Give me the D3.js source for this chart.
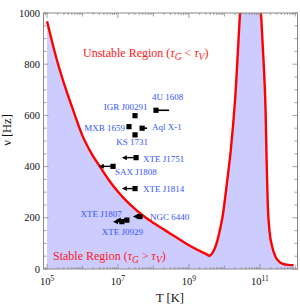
<!DOCTYPE html>
<html><head><meta charset="utf-8">
<script src="https://cdn.jsdelivr.net/npm/d3@7"></script>
<style>
html,body{margin:0;padding:0;background:#fff;}
svg{display:block;font-family:"Liberation Serif","Times New Roman",serif;}
</style></head><body>
<svg id="chart" width="300" height="307"></svg>
<script>
// ---- data ----
const boundaryLogT = [5.0,5.25,5.5,5.75,6.0,6.25,6.5,6.75,7.0,7.25,7.5,7.75,8.0,8.25,8.5,8.75,9.0,9.25,9.5,9.58,9.65,9.72,9.79,9.87,9.96,10.07,10.18,10.30,10.44,10.55,10.95,11.03,11.10,11.16,11.19,11.22,11.27,11.35,11.45,11.55,11.65,11.8,11.95];
const boundaryNu   = [968,830,715,615,520,452,398,346,302,264,232,204,180,158,136,114,93,74,57,51,60,78,105,150,215,335,465,660,1000,1250,1250,1000,820,620,420,260,150,85,45,28,20,16,15];

const starNames    = ["4U 1608","IGR J00291","MXB 1659","Aql X-1","KS 1731","XTE J1751","SAX J1808","XTE J1814","NGC 6440","XTE J1807","XTE J0929"];
const starNu       = [620,599,556,550,524,435,401,314,205,191,185];
const starLogT     = [8.07,7.48,7.31,7.68,7.48,7.51,6.86,7.48,7.62,7.25,7.11];
const starBarLogT  = [8.44,null,null,7.82,null,7.11,6.46,7.11,7.42,6.94,6.86];

const xLabelExponents = [5,7,9,11];
const yTickValues = [0,200,400,600,800,1000];

// ---- layout ----
const L=43.5, R=297.5, T=13, B=269;
const svg = d3.select("#chart");
const x = d3.scaleLog().domain([Math.pow(10,4.9), Math.pow(10,12.06)]).range([L,R]);
const y = d3.scaleLinear().domain([0,1000]).range([B,T]);

svg.append("defs").append("clipPath").attr("id","plot")
  .append("rect").attr("x",L).attr("y",T).attr("width",R-L).attr("height",B-T);

const curveData = boundaryLogT.map((lt,i)=>({t:Math.pow(10,lt), v:boundaryNu[i]}));
// split at the minimum so the kink stays sharp
const minIdx = d3.minIndex(curveData.slice(0,30), d=>d.v);
const seg1 = curveData.slice(0,minIdx+1), seg2 = curveData.slice(minIdx);
const lineGen = d3.line().x(d=>x(d.t)).y(d=>y(d.v)).curve(d3.curveMonotoneX);
const pathD = lineGen(seg1) + lineGen(seg2).replace(/^M/,"L");

const g = svg.append("g").attr("clip-path","url(#plot)");
g.append("path")
  .attr("d", pathD + `L${x(curveData[curveData.length-1].t)},${y(0)}L${x(curveData[0].t)},${y(0)}Z`)
  .attr("fill","#ccccff");

// frame
const frameColor="#8a8a8a";
svg.append("rect").attr("x",L).attr("y",T).attr("width",R-L).attr("height",B-T)
  .attr("fill","none").attr("stroke",frameColor).attr("stroke-width",1);

// y ticks (left/right, inward)
const yt = svg.append("g").attr("stroke",frameColor).attr("stroke-width",0.8);
d3.range(0,1001,50).forEach(v=>{
  const len = v%200===0 ? 5 : 3;
  yt.append("line").attr("x1",L).attr("x2",L+len).attr("y1",y(v)).attr("y2",y(v));
  yt.append("line").attr("x1",R).attr("x2",R-len).attr("y1",y(v)).attr("y2",y(v));
});
// x ticks (bottom/top, inward)
const xt = svg.append("g").attr("stroke",frameColor).attr("stroke-width",0.8);
for(let e=4;e<=12;e++){
  for(let m=1;m<=9;m++){
    const val=m*Math.pow(10,e);
    if(val<x.domain()[0]||val>x.domain()[1]) continue;
    let len = m===1 ? (e%2===1?5:3.5) : 2;
    const px=x(val);
    xt.append("line").attr("x1",px).attr("x2",px).attr("y1",B).attr("y2",B-len);
    xt.append("line").attr("x1",px).attr("x2",px).attr("y1",T).attr("y2",T+len);
  }
}

// curve
g.append("path").attr("d", pathD)
  .attr("fill","none").attr("stroke","#ff0000").attr("stroke-width",2.4).attr("stroke-linejoin","round");

// tick labels
yTickValues.forEach(v=>{
  svg.append("text").attr("x",40).attr("y",y(v)+3.5).attr("text-anchor","end")
    .attr("font-size",10.5).attr("fill","#111").text(v);
});
xLabelExponents.forEach(e=>{
  const t=svg.append("text").attr("x",x(Math.pow(10,e))).attr("y",285).attr("text-anchor","middle")
    .attr("font-size",10.5).attr("fill","#111");
  t.append("tspan").text("10");
  t.append("tspan").attr("dy",-4).attr("font-size",7.5).text(e);
});

// axis titles
svg.append("text").attr("x",170).attr("y",302).attr("text-anchor","middle")
  .attr("font-size",12.5).attr("fill","#111").text("T [K]");
svg.append("text").attr("transform","translate(11,130) rotate(-90)").attr("text-anchor","middle")
  .attr("font-size",12.5).attr("fill","#111").text("ν [Hz]");

// region labels
function regionLabel(xp, yp, word, rel){
  const t=svg.append("text").attr("x",xp).attr("y",yp).attr("font-size",12).attr("fill","#ff1a1a");
  t.append("tspan").text(word+" (");
  t.append("tspan").attr("font-style","italic").text("τ");
  t.append("tspan").attr("font-style","italic").attr("font-size",9.5).attr("dy",2.5).text("G");
  t.append("tspan").attr("dy",-2.5).text(" "+rel+" ");
  t.append("tspan").attr("font-style","italic").text("τ");
  t.append("tspan").attr("font-style","italic").attr("font-size",9.5).attr("dy",2.5).text("V");
  t.append("tspan").attr("dy",-2.5).text(")");
}
regionLabel(83,57,"Unstable Region","<");
regionLabel(53,260,"Stable Region",">");

// stars
const labelPos = {
  "4U 1608":{a:"start",dx:-4,dy:-10},
  "IGR J00291":{a:"middle",dx:-9.5,dy:-6},
  "MXB 1659":{a:"end",dx:-4,dy:4},
  "Aql X-1":{a:"start",dx:10,dy:2},
  "KS 1731":{a:"middle",dx:-3,dy:10},
  "XTE J1751":{a:"start",dx:7,dy:4},
  "SAX J1808":{a:"start",dx:2,dy:9},
  "XTE J1814":{a:"start",dx:8,dy:3},
  "NGC 6440":{a:"start",dx:10,dy:3},
  "XTE J1807":{a:"end",dx:-5,dy:-3},
  "XTE J0929":{a:"middle",dx:0.5,dy:13}
};
const sg = svg.append("g");
starNames.forEach((n,i)=>{
  const px=x(Math.pow(10,starLogT[i])), py=y(starNu[i]);
  const bl=starBarLogT[i];
  if(bl!==null){
    const bx=x(Math.pow(10,bl));
    if(bx<px){
      sg.append("line").attr("x1",px).attr("x2",bx+4).attr("y1",py).attr("y2",py)
        .attr("stroke","#000").attr("stroke-width",1.4);
      sg.append("path").attr("d",`M${bx},${py}L${bx+5},${py-2.5}L${bx+5},${py+2.5}Z`).attr("fill","#000");
    } else {
      sg.append("line").attr("x1",px).attr("x2",bx).attr("y1",py).attr("y2",py)
        .attr("stroke","#000").attr("stroke-width",1.6);
    }
  }
  sg.append("rect").attr("x",px-2.6).attr("y",py-2.6).attr("width",5.2).attr("height",5.2).attr("fill","#000");
  const lp=labelPos[n];
  svg.append("text").attr("x",px+lp.dx).attr("y",py+lp.dy).attr("text-anchor",lp.a)
    .attr("font-size",9).attr("fill","#3355ff").text(n);
});
</script>
</body></html>
